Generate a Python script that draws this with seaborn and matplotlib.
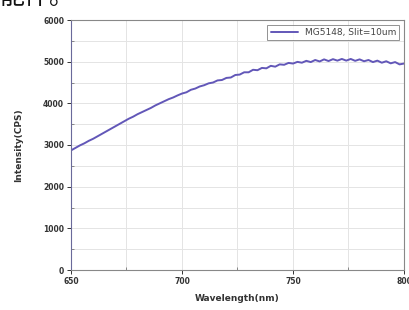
import numpy as np
import pandas as pd
import matplotlib
matplotlib.use('Agg')
import matplotlib.pyplot as plt
import seaborn as sns
from matplotlib.ticker import MultipleLocator


wavelength = list(range(650, 801, 2))
intensity = [
    2870, 2930, 2990, 3040, 3100, 3150, 3210, 3270, 3330, 3390,
    3450, 3510, 3570, 3630, 3680, 3740, 3790, 3840, 3890, 3950,
    4000, 4050, 4100, 4140, 4190, 4235, 4265, 4325, 4355, 4405,
    4435, 4480, 4500, 4550, 4560, 4610, 4620, 4680, 4690, 4745,
    4745, 4805, 4795, 4850, 4840, 4900, 4880, 4935, 4925, 4970,
    4955, 4995, 4975, 5020, 4990, 5040, 5005, 5055, 5015, 5060,
    5025, 5065, 5025, 5065, 5020, 5055, 5010, 5040, 4990, 5025,
    4975, 5010, 4960, 4990, 4935, 4955,
]
series_label = 'MG5148, Slit=10um'
df = pd.DataFrame({'Wavelength(nm)': wavelength, 'Intensity(CPS)': intensity})

sns.set_style('white')
plt.rcParams['font.family'] = ['DejaVu Sans', 'Noto Sans CJK SC']

fig = plt.figure(figsize=(4.1, 3.1), dpi=100)
ax = fig.add_axes([71 / 410, 40 / 310, 333 / 410, 250 / 310])

sns.lineplot(data=df, x='Wavelength(nm)', y='Intensity(CPS)', ax=ax,
             color='#6257b8', linewidth=1.4, label=series_label)

ax.set_xlim(650, 800)
ax.set_ylim(0, 6000)
ax.xaxis.set_major_locator(MultipleLocator(50))
ax.xaxis.set_minor_locator(MultipleLocator(25))
ax.yaxis.set_major_locator(MultipleLocator(1000))
ax.yaxis.set_minor_locator(MultipleLocator(500))
ax.grid(which='both', color='#e4e4e4', linewidth=0.7)
ax.set_axisbelow(True)
for s in ax.spines.values():
    s.set_color('#888888')
    s.set_linewidth(0.8)
ax.spines['left'].set_color('#6a6a9a')
ax.tick_params(which='major', direction='out', length=3, width=0.7,
               labelsize=5.5, colors='#333333', left=True, bottom=True, pad=2)
ax.tick_params(which='minor', direction='in', length=2, width=0.6,
               colors='#777777', left=True, bottom=True)
for lab in ax.get_xticklabels() + ax.get_yticklabels():
    lab.set_fontweight('bold')
ax.set_xlabel('Wavelength(nm)', fontsize=6.5, fontweight='bold', color='#333333', labelpad=6)
ax.set_ylabel('Intensity(CPS)', fontsize=6.5, fontweight='bold', color='#333333', labelpad=14)

leg = ax.legend(loc='upper right', fontsize=6.5, frameon=True, fancybox=False,
                borderpad=0.35, handlelength=3, borderaxespad=0.5)
leg.get_frame().set_edgecolor('#777777')
leg.get_frame().set_linewidth(0.7)
for t in leg.get_texts():
    t.set_color('#444444')

fig.text(0.0, 1 + 3 / 310, '能件。', fontsize=18, va='center', ha='left',
         family=['Noto Sans CJK SC', 'DejaVu Sans'], color='#111111')

fig.savefig('out.png', dpi=100)
